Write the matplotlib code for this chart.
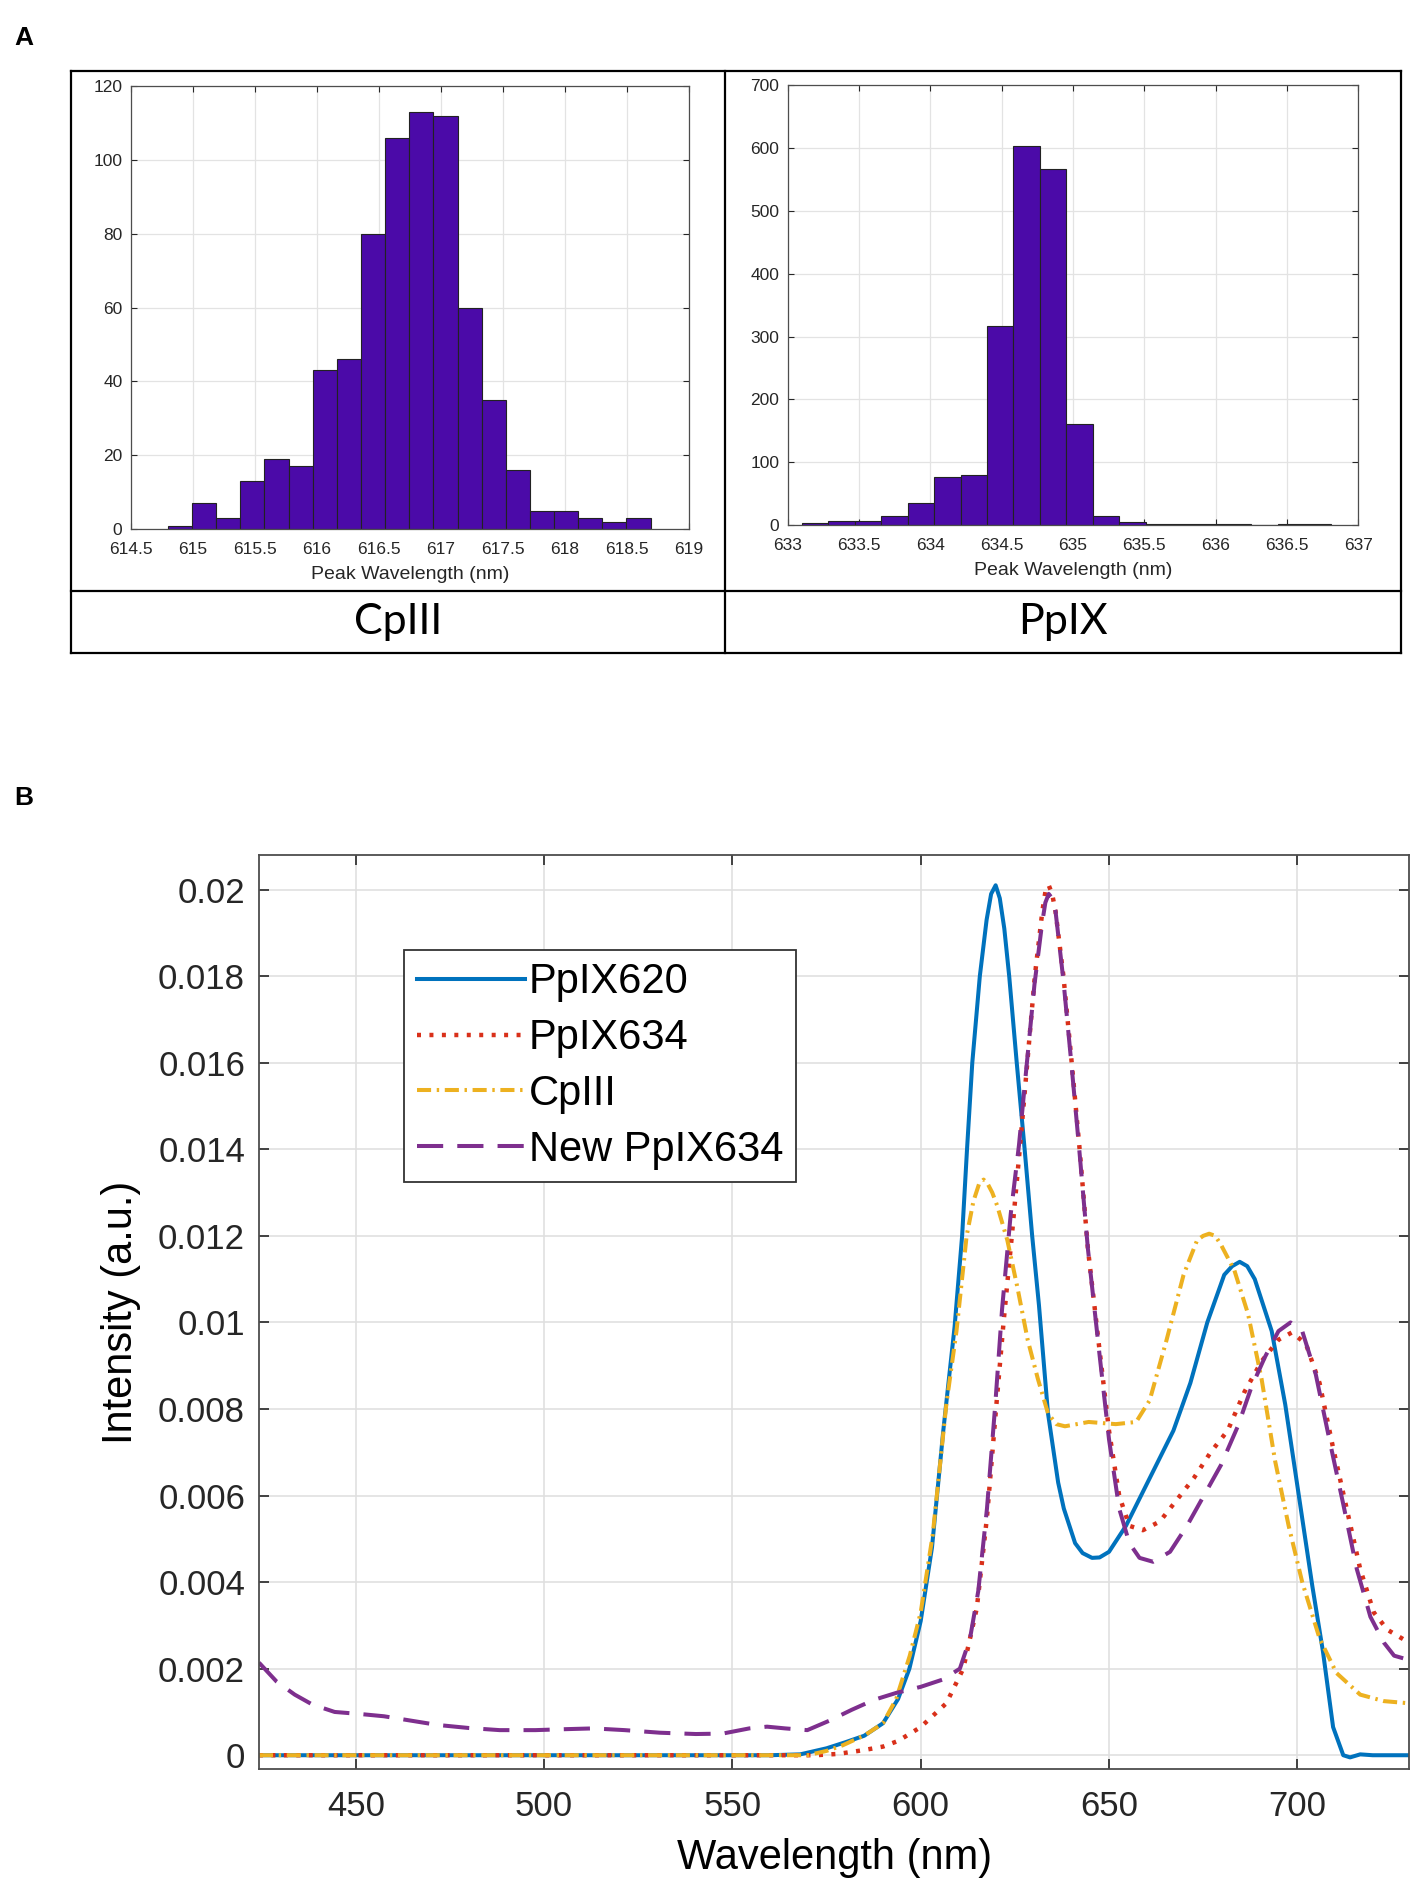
import numpy as np
import matplotlib.pyplot as plt
from matplotlib.lines import Line2D
from matplotlib.ticker import FuncFormatter, MultipleLocator

# ---- Panel A: peak wavelength histograms ----
cp_edges = np.linspace(614.8, 618.69, 21)
cp_counts = [1, 7, 3, 13, 19, 17, 43, 46, 80, 106, 113, 112, 60, 35, 16, 5, 5, 3, 2, 3]

pp_edges = np.linspace(633.1, 636.806, 21)
pp_counts = [3, 7, 6, 14, 35, 76, 79, 317, 603, 567, 161, 15, 5, 2, 1, 1, 1, 0, 1, 1]

# ---- Panel B: emission spectra ----
wl_620 = [424.3, 560, 568, 575, 580, 585, 590, 594, 597, 600, 603, 606, 609, 611, 612.3,
          613.7, 615.7, 617.5, 618.7, 619.9, 621, 622.2, 623.5, 625.5, 627.6, 629.6, 631.4,
          633.8, 636.5, 638, 639.5, 641, 643, 645.5, 647.5, 650, 654.5, 660.8, 667.1, 671.6,
          676.1, 680.6, 682.7, 684.7, 686.7, 688.7, 693.2, 696.8, 700.4, 704, 706.8, 709.5,
          712.2, 714, 716.7, 720, 729.7]
int_620 = [0, 0, 0.00002, 0.00016, 0.0003, 0.00045, 0.00074, 0.0013, 0.002, 0.0031, 0.0048,
           0.0075, 0.0099, 0.012, 0.014, 0.016, 0.018, 0.0193, 0.0199, 0.0201, 0.0198, 0.0191,
           0.018, 0.016, 0.014, 0.012, 0.0104, 0.0079, 0.0063, 0.0057, 0.0053, 0.0049,
           0.00467, 0.00456, 0.00457, 0.0047, 0.0053, 0.0064, 0.0075, 0.0086, 0.0100, 0.0111,
           0.0113, 0.0114, 0.0113, 0.0110, 0.0098, 0.0081, 0.0060, 0.0039, 0.0024, 0.00065,
           0.0, -0.00005, 0.00002, 0, 0]

wl_634 = [424.3, 572, 578, 585, 590, 594, 600, 606.8, 611.3, 614.9, 617.6, 620, 622, 624.2,
          626.3, 628.3, 630.3, 632.3, 633.2, 634, 634.9, 635.8, 637.9, 640.1, 642.2, 644.4,
          647.3, 650, 652.7, 655.4, 659, 663.5, 668, 672.5, 677, 681.5, 686, 690.5, 695,
          698.6, 702.3, 705.9, 709.5, 713.1, 716.7, 720.3, 723.9, 729.7]
int_634 = [0, 0, 0.00003, 0.00012, 0.0002, 0.00033, 0.00065, 0.0012, 0.002, 0.0034, 0.0055,
           0.008, 0.010, 0.012, 0.014, 0.016, 0.018, 0.0195, 0.0200, 0.0201, 0.0199, 0.0195,
           0.018, 0.016, 0.014, 0.0117, 0.0095, 0.0075, 0.006, 0.0053, 0.0052, 0.0054, 0.0059,
           0.0064, 0.007, 0.0075, 0.0084, 0.0091, 0.0096, 0.00977, 0.0095, 0.0086, 0.0071,
           0.0057, 0.0043, 0.0033, 0.0029, 0.0026]

wl_cp = [424.3, 570, 575, 579.3, 585.3, 590, 593.5, 597.1, 600, 603.2, 606.8, 609.5, 612.2,
         614, 615.5, 616.7, 617.8, 619, 620.3, 623, 625.7, 628.4, 631.1, 633.8, 636, 638.3,
         644.6, 651.8, 657.2, 660.8, 665.3, 669.8, 673.4, 675, 676.6, 678.2, 679.7, 683.3,
         686.9, 690.5, 694.1, 697.7, 701.3, 705.9, 710.4, 716.7, 723, 729.7]
int_cp = [0, 0, 0.0001, 0.00023, 0.00047, 0.00074, 0.0013, 0.0023, 0.0033, 0.0051, 0.0081,
          0.0098, 0.0120, 0.0128, 0.0132, 0.0133, 0.0132, 0.0130, 0.0127, 0.0119, 0.0108,
          0.0096, 0.0087, 0.0079, 0.00765, 0.0076, 0.0077, 0.00765, 0.0077, 0.0082, 0.0096,
          0.0111, 0.0119, 0.0120, 0.01205, 0.0120, 0.0118, 0.0112, 0.0102, 0.0087, 0.0068,
          0.0053, 0.0040, 0.0027, 0.0019, 0.0014, 0.00125, 0.0012]

wl_new = [424.3, 429, 433.8, 438.5, 444.4, 451.5, 457.5, 464.6, 471.7, 479.9, 488.2, 497.7,
          504.8, 513.1, 521.4, 530.8, 540.3, 547.4, 554.5, 559.2, 564, 569.9, 575.8, 581.7,
          587.6, 593.5, 600, 605.9, 610.4, 613.1, 615.3, 617.6, 619.8, 621.6, 623.9, 626.1,
          628.2, 630.2, 632.2, 633.1, 634, 634.9, 635.8, 637.9, 640.1, 642.2, 644.4, 647.3,
          650, 652.7, 655.4, 658.1, 661.7, 666.2, 670.7, 675.2, 679.7, 684.2, 687.8, 691.4,
          695, 698.2, 701.3, 704.9, 708.5, 712.2, 715.8, 719.4, 723, 725.7, 729.7]
int_new = [0.00214, 0.0017, 0.0014, 0.00117, 0.001, 0.00095, 0.0009, 0.0008, 0.0007, 0.00063,
           0.00058, 0.00058, 0.0006, 0.00062, 0.00058, 0.00052, 0.00049, 0.0005, 0.00062,
           0.00066, 0.00062, 0.00058, 0.0008, 0.00105, 0.00128, 0.00144, 0.00158, 0.00175,
           0.002, 0.0027, 0.0038, 0.0057, 0.0081, 0.0103, 0.0125, 0.0141, 0.0160, 0.0178,
           0.0192, 0.0197, 0.0199, 0.0198, 0.0195, 0.0179, 0.0159, 0.0139, 0.0117, 0.0094,
           0.0073, 0.0057, 0.0049, 0.00456, 0.00447, 0.0047, 0.0053, 0.006, 0.0067, 0.0076,
           0.0085, 0.0092, 0.0098, 0.0100, 0.0098, 0.0088, 0.0073, 0.0058, 0.0043, 0.0032,
           0.0026, 0.0023, 0.0022]

plt.rcParams['font.family'] = ['Liberation Sans', 'DejaVu Sans']
axis_grey = '#262626'

fig = plt.figure(figsize=(14.12, 18.82), dpi=100)


def style_hist(ax, xlim, ylim, xstep, ystep):
    ax.set_xlim(*xlim)
    ax.set_ylim(*ylim)
    ax.xaxis.set_major_locator(MultipleLocator(xstep))
    ax.yaxis.set_major_locator(MultipleLocator(ystep))
    ax.xaxis.set_major_formatter(FuncFormatter(lambda v, p: f'{v:g}'))
    ax.grid(True, color='#e3e3e3', lw=0.9)
    ax.set_axisbelow(True)
    for s in ax.spines.values():
        s.set_color('#4d4d4d')
        s.set_linewidth(0.9)
    ax.tick_params(direction='in', top=True, right=True, length=4, width=0.8,
                   labelsize=12.5, colors=axis_grey, pad=6)
    ax.tick_params(axis='x', pad=9)
    ax.set_xlabel('Peak Wavelength (nm)', fontsize=14, color=axis_grey, labelpad=7)


ax1 = fig.add_axes([0.0926, 0.7188, 0.3954, 0.2355])
ax1.bar(cp_edges[:-1], cp_counts, width=np.diff(cp_edges), align='edge',
        color='#4b0aa8', edgecolor='#222222', linewidth=0.8)
style_hist(ax1, (614.5, 619), (0, 120), 0.5, 20)

ax2 = fig.add_axes([0.5579, 0.7210, 0.4041, 0.2338])
ax2.bar(pp_edges[:-1], pp_counts, width=np.diff(pp_edges), align='edge',
        color='#4b0aa8', edgecolor='#222222', linewidth=0.8)
style_hist(ax2, (633, 637), (0, 700), 0.5, 100)

# table frame around panel A
x0, xm, x1 = 0.0503, 0.5135, 0.9922
yt, ym, yb = 0.9623, 0.6860, 0.6530
for xs, ys in [([x0, x1], [yt, yt]), ([x0, x1], [yb, yb]), ([x0, x1], [ym, ym]),
               ([x0, x0], [yb, yt]), ([x1, x1], [yb, yt]), ([xm, xm], [yb, yt])]:
    fig.add_artist(Line2D(xs, ys, transform=fig.transFigure, color='black', lw=1.6))

cell_font = ['Lato', 'DejaVu Sans']
fig.text((x0 + xm) / 2, (ym + yb) / 2, 'CpIII', ha='center', va='center',
         fontsize=31, family=cell_font)
fig.text((xm + x1) / 2, (ym + yb) / 2, 'PpIX', ha='center', va='center',
         fontsize=31, family=cell_font)

fig.text(0.017, 0.980, 'A', fontsize=19, fontweight='bold', ha='center', va='center')
fig.text(0.017, 0.576, 'B', fontsize=19, fontweight='bold', ha='center', va='center')

# ---- Panel B ----
ax3 = fig.add_axes([0.1834, 0.0600, 0.8146, 0.4857])
lw = 2.9
ax3.plot(wl_620, int_620, color='#0072bd', lw=lw, label='PpIX620')
ax3.plot(wl_634, int_634, color='#d9301a', lw=lw + 0.3, linestyle=(0, (0.9, 1.9)),
         label='PpIX634')
ax3.plot(wl_cp, int_cp, color='#edb120', lw=lw, linestyle=(0, (3.5, 1.4, 0.6, 1.4)),
         label='CpIII')
ax3.plot(wl_new, int_new, color='#7e2f8e', lw=lw, linestyle=(0, (6.5, 3.5)),
         label='New PpIX634')

ax3.set_xlim(424.3, 729.7)
ax3.set_ylim(-0.00032, 0.0208)
ax3.xaxis.set_major_locator(MultipleLocator(50))
ax3.yaxis.set_major_locator(MultipleLocator(0.002))
ax3.yaxis.set_major_formatter(FuncFormatter(lambda v, p: f'{round(v, 4):g}'))
ax3.grid(True, color='#e0e0e0', lw=1.2)
ax3.set_axisbelow(True)
for s in ax3.spines.values():
    s.set_color('#4d4d4d')
    s.set_linewidth(1.3)
ax3.tick_params(direction='in', top=True, right=True, length=7, width=1.2,
                labelsize=25, colors=axis_grey, pad=10)
ax3.tick_params(axis='x', pad=15)
ax3.set_xlabel('Wavelength (nm)', fontsize=30, labelpad=11)
ax3.set_ylabel('Intensity (a.u.)', fontsize=30, labelpad=12)

leg = ax3.legend(loc='upper left', bbox_to_anchor=(0.1264, 0.8963), fontsize=30,
                 handlelength=2.6, handletextpad=0.08, borderpad=0.3, labelspacing=0.38,
                 borderaxespad=0, fancybox=False, framealpha=1)
leg.get_frame().set_edgecolor('#333333')
leg.get_frame().set_linewidth(1.3)

fig.savefig('out.png', dpi=100)
